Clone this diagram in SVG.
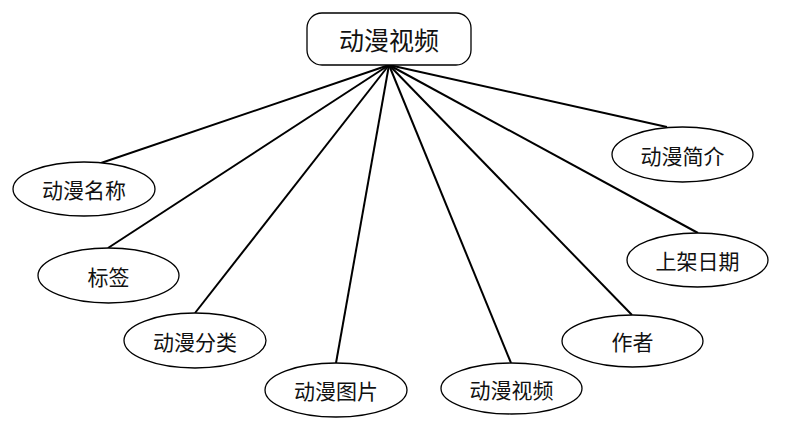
<svg xmlns="http://www.w3.org/2000/svg" width="806" height="432" viewBox="0 0 806 432">
<style>
.n{fill:#fff;stroke:#000;stroke-width:1.3}
.t{font-family:"Noto Sans CJK SC","Noto Sans",sans-serif;font-size:21px;fill:#111;text-anchor:middle;dominant-baseline:central}
.r{font-size:25px}
.c line{stroke:#000;stroke-width:2}
</style>
<rect width="806" height="432" fill="#fff"/>
<g class="c" id="connectors">
<line x1="389" y1="65" x2="101" y2="163"/>
<line x1="389" y1="65" x2="108" y2="248"/>
<line x1="389" y1="65" x2="195" y2="313"/>
<line x1="389" y1="65" x2="336" y2="363"/>
<line x1="389" y1="65" x2="511" y2="363"/>
<line x1="389" y1="65" x2="632" y2="315"/>
<line x1="389" y1="65" x2="698" y2="233"/>
<line x1="389" y1="65" x2="667" y2="127"/>
</g>
<g id="root"><rect class="n" x="307" y="13" width="164" height="52" rx="15"/><text class="t r" x="389" y="39">动漫视频</text></g>
<g id="n1"><ellipse class="n" cx="84" cy="189" rx="71" ry="27"/><text class="t" x="84" y="189">动漫名称</text></g>
<g id="n2"><ellipse class="n" cx="108.5" cy="275.5" rx="70.5" ry="27.5"/><text class="t" x="108.5" y="275.5">标签</text></g>
<g id="n3"><ellipse class="n" cx="195" cy="340.5" rx="71" ry="27.5"/><text class="t" x="195" y="340.5">动漫分类</text></g>
<g id="n4"><ellipse class="n" cx="336" cy="390" rx="71" ry="27"/><text class="t" x="336" y="390">动漫图片</text></g>
<g id="n5"><ellipse class="n" cx="511.5" cy="388.5" rx="70.5" ry="25.5"/><text class="t" x="511.5" y="388.5">动漫视频</text></g>
<g id="n6"><ellipse class="n" cx="632.5" cy="341" rx="70.5" ry="26"/><text class="t" x="632.5" y="341">作者</text></g>
<g id="n7"><ellipse class="n" cx="697.5" cy="260" rx="70.5" ry="27"/><text class="t" x="697.5" y="260">上架日期</text></g>
<g id="n8"><ellipse class="n" cx="682.5" cy="154.5" rx="70.5" ry="27.5"/><text class="t" x="682.5" y="154.5">动漫简介</text></g>
</svg>
